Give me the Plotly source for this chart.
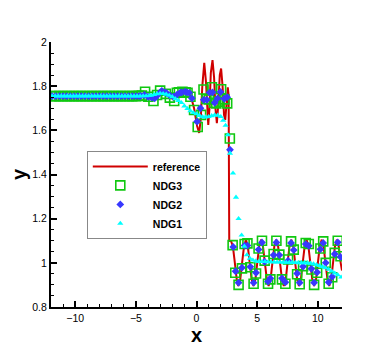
import plotly.graph_objects as go

# reference solution
ref_x = [-12.0, -4.6, -4.3, -4.0, -3.6, -3.3, -3.0, -2.6, -2.2, -1.85, -1.5, -1.1, -0.7, -0.45,
         -0.2, 0.05, 0.22, 0.35, 0.48, 0.64, 0.78, 0.88, 0.97, 1.07, 1.18, 1.32, 1.45, 1.56,
         1.68, 1.8, 1.92, 2.03, 2.15, 2.27, 2.37, 2.48, 2.58, 2.65, 2.68, 2.70, 2.85, 3.0,
         3.12, 3.25, 3.35, 3.45, 3.61, 3.76, 3.92, 4.08, 4.23, 4.39, 4.55, 4.70, 4.86, 5.01,
         5.17, 5.33, 5.48, 5.64, 5.80, 5.95, 6.11, 6.26, 6.42, 6.58, 6.73, 6.89, 7.05, 7.20,
         7.36, 7.51, 7.67, 7.83, 7.98, 8.14, 8.30, 8.45, 8.61, 8.76, 8.92, 9.08, 9.23, 9.39,
         9.55, 9.70, 9.86, 10.01, 10.17, 10.33, 10.48, 10.64, 10.80, 10.95, 11.11, 11.26,
         11.42, 11.58, 11.73, 11.89, 12.0]
ref_y = [1.755, 1.755, 1.768, 1.755, 1.738, 1.758, 1.778, 1.768, 1.75, 1.737, 1.765, 1.775,
         1.77, 1.752, 1.70, 1.62, 1.588, 1.65, 1.80, 1.906, 1.82, 1.68, 1.624, 1.70, 1.86,
         1.918, 1.84, 1.70, 1.632, 1.72, 1.85, 1.88, 1.80, 1.67, 1.647, 1.72, 1.795, 1.76,
         1.5, 1.10, 1.098, 1.075, 1.02, 0.95, 0.91, 0.895, 0.925, 1.0, 1.075, 1.105, 1.075,
         1.0, 0.925, 0.895, 0.925, 1.0, 1.075, 1.105, 1.075, 1.0, 0.925, 0.895, 0.925, 1.0,
         1.075, 1.105, 1.075, 1.0, 0.925, 0.895, 0.925, 1.0, 1.075, 1.105, 1.075, 1.0, 0.925,
         0.895, 0.925, 1.0, 1.075, 1.105, 1.075, 1.0, 0.925, 0.895, 0.925, 1.0, 1.075, 1.105,
         1.075, 1.0, 0.925, 0.895, 0.925, 1.0, 1.075, 1.105, 1.075, 1.0, 0.965]

# NDG3
ndg3_x = [-11.9, -11.6, -11.3, -11.0, -10.7, -10.4, -10.1, -9.8, -9.5, -9.2, -8.9, -8.6, -8.3,
          -8.0, -7.7, -7.4, -7.1, -6.8, -6.5, -6.2, -5.9, -5.6, -5.3, -5.0, -4.75, -4.5, -4.24,
          -3.97, -3.55, -3.25, -3.0, -2.53, -2.2, -1.84, -1.62, -1.45, -1.16, -0.9, -0.74, -0.5,
          -0.2, 0.1, 0.38, 0.58, 0.82, 1.02, 1.27, 1.45, 1.63, 1.9, 2.03, 2.3, 2.53, 2.75, 2.98,
          3.2, 3.47, 3.75, 3.97, 4.2, 4.44, 4.71, 4.91, 5.12, 5.4, 5.62, 5.9, 6.09, 6.36, 6.59,
          6.83, 7.05, 7.33, 7.55, 7.8, 8.02, 8.3, 8.51, 8.79, 9.01, 9.26, 9.48, 9.7, 9.95, 10.22,
          10.45, 10.66, 10.9, 11.19, 11.4, 11.65, 11.88]
ndg3_y = [1.755, 1.755, 1.755, 1.755, 1.755, 1.755, 1.755, 1.755, 1.755, 1.755, 1.755, 1.755,
          1.755, 1.755, 1.755, 1.755, 1.755, 1.755, 1.755, 1.755, 1.755, 1.755, 1.755, 1.755,
          1.756, 1.757, 1.775, 1.752, 1.733, 1.76, 1.78, 1.765, 1.748, 1.733, 1.77, 1.772,
          1.775, 1.772, 1.77, 1.752, 1.692, 1.615, 1.67, 1.785, 1.742, 1.74, 1.795, 1.725,
          1.722, 1.73, 1.786, 1.74, 1.722, 1.563, 1.08, 0.955, 0.90, 0.975, 1.085, 1.088, 0.98,
          0.905, 0.952, 1.065, 1.10, 1.01, 0.905, 0.925, 1.04, 1.10, 1.037, 0.925, 0.905,
          1.015, 1.097, 1.06, 0.948, 0.903, 0.985, 1.09, 1.085, 0.97, 0.90, 0.955, 1.065,
          1.097, 1.0, 0.905, 0.935, 1.045, 1.10, 1.03]

# NDG2
ndg2_x = [-11.9, -11.6, -11.3, -11.0, -10.7, -10.4, -10.1, -9.8, -9.5, -9.2, -8.9, -8.6, -8.3,
          -8.0, -7.7, -7.4, -7.1, -6.8, -6.5, -6.2, -5.9, -5.6, -5.3, -5.0, -4.75, -4.6, -4.3,
          -4.0, -3.69, -3.45, -3.27, -3.0, -2.86, -2.6, -2.45, -2.2, -1.9, -1.6, -1.35, -1.2,
          -0.94, -0.79, -0.6, -0.38, 0.05, 0.33, 0.6, 0.85, 1.08, 1.32, 1.5, 1.74, 1.98, 2.29,
          2.53, 2.76, 3.03, 3.22, 3.47, 3.75, 3.97, 4.2, 4.44, 4.71, 4.91, 5.12, 5.4, 5.62, 5.9,
          6.09, 6.36, 6.59, 6.83, 7.05, 7.33, 7.55, 7.8, 8.02, 8.3, 8.51, 8.79, 9.01, 9.26, 9.48,
          9.7, 9.95, 10.22, 10.45, 10.66, 10.9, 11.19, 11.4, 11.65, 11.88]
ndg2_y = [1.755, 1.755, 1.755, 1.755, 1.755, 1.755, 1.755, 1.755, 1.755, 1.755, 1.755, 1.755,
          1.755, 1.755, 1.755, 1.755, 1.755, 1.755, 1.755, 1.755, 1.755, 1.755, 1.755, 1.755,
          1.755, 1.756, 1.76, 1.752, 1.748, 1.745, 1.755, 1.772, 1.778, 1.772, 1.768, 1.758,
          1.752, 1.762, 1.771, 1.772, 1.775, 1.772, 1.77, 1.745, 1.64, 1.70, 1.738, 1.738,
          1.771, 1.772, 1.725, 1.745, 1.774, 1.743, 1.75, 1.512, 1.072, 0.962, 0.91, 0.978,
          1.078, 1.078, 0.982, 0.91, 0.955, 1.06, 1.092, 1.005, 0.915, 0.93, 1.035, 1.092,
          1.035, 0.93, 0.912, 1.01, 1.09, 1.058, 0.952, 0.91, 0.983, 1.085, 1.077, 0.973, 0.91,
          0.957, 1.062, 1.09, 1.0, 0.912, 0.937, 1.04, 1.093, 1.027]

# NDG1
ndg1_x = [-11.9, -11.65, -11.4, -11.15, -10.9, -10.65, -10.4, -10.15, -9.9, -9.65, -9.4, -9.15,
          -8.9, -8.65, -8.4, -8.15, -7.9, -7.65, -7.4, -7.15, -6.9, -6.65, -6.4, -6.15, -5.9,
          -5.65, -5.4, -5.15, -4.9, -4.65, -4.4, -4.15, -3.9, -3.75, -3.5, -3.25, -3.0, -2.75,
          -2.5, -2.25, -2.0, -1.75, -1.5, -1.25, -1.0, -0.75, -0.5, -0.25, 0.0, 0.25, 0.5, 0.75,
          1.0, 1.25, 1.5, 1.75, 2.0, 2.2, 2.4, 2.59, 2.76, 3.01, 3.26, 3.47, 3.72, 3.95, 4.16,
          4.4, 4.65, 4.9, 5.15, 5.4, 5.65, 5.9, 6.15, 6.4, 6.65, 6.9, 7.15, 7.4, 7.65, 7.9, 8.15,
          8.4, 8.65, 8.9, 9.15, 9.4, 9.65, 9.9, 10.15, 10.4, 10.65, 10.9, 11.15, 11.4, 11.65,
          11.93]
ndg1_y = [1.755, 1.755, 1.755, 1.755, 1.755, 1.755, 1.755, 1.755, 1.755, 1.755, 1.755, 1.755,
          1.755, 1.755, 1.755, 1.755, 1.755, 1.755, 1.755, 1.755, 1.755, 1.755, 1.755, 1.755,
          1.755, 1.755, 1.755, 1.755, 1.755, 1.755, 1.756, 1.756, 1.757, 1.758, 1.762, 1.765,
          1.767, 1.766, 1.763, 1.758, 1.752, 1.743, 1.735, 1.725, 1.71, 1.698, 1.688, 1.68,
          1.674, 1.667, 1.661, 1.66, 1.662, 1.666, 1.669, 1.668, 1.662, 1.645, 1.622, 1.579,
          1.496, 1.406, 1.297, 1.20, 1.125, 1.075, 1.036, 1.02, 1.012, 1.008, 1.006, 1.005,
          1.005, 1.004, 1.004, 1.003, 1.003, 1.003, 1.002, 1.002, 1.002, 1.001, 1.001, 1.0,
          1.0, 1.0, 0.999, 0.998, 0.995, 0.991, 0.987, 0.982, 0.977, 0.97, 0.962, 0.953, 0.945,
          0.935]

font_family = "Liberation Sans, Arial, sans-serif"

fig = go.Figure()
fig.add_trace(go.Scatter(x=ref_x, y=ref_y, name="reference", mode="lines",
                         line=dict(color="#d00000", width=2)))
fig.add_trace(go.Scatter(x=ndg3_x, y=ndg3_y, name="NDG3", mode="markers",
                         marker=dict(symbol="square-open", size=9, color="#10c810",
                                     line=dict(width=1.6, color="#10c810"))))
fig.add_trace(go.Scatter(x=ndg2_x, y=ndg2_y, name="NDG2", mode="markers",
                         marker=dict(symbol="diamond", size=6, color="#3838ff")))
fig.add_trace(go.Scatter(x=ndg1_x, y=ndg1_y, name="NDG1", mode="markers",
                         marker=dict(symbol="triangle-up", size=5.5, color="#00ffff")))

axis_common = dict(
    showline=True, linecolor="black", linewidth=2, mirror=False,
    showgrid=False, zeroline=False, automargin=False,
    ticks="inside", ticklen=6, tickwidth=1.5, tickcolor="black",
    tickfont=dict(family=font_family, size=10.5, color="black"),
)

fig.update_xaxes(range=[-12, 12], tick0=0, dtick=5,
                 minor=dict(ticks="inside", ticklen=3, dtick=1, tickcolor="black", tickwidth=1),
                 title=dict(text="x", font=dict(family=font_family, size=20, weight="bold",
                                                color="black"), standoff=0),
                 **axis_common)
fig.update_yaxes(range=[0.8, 2], tick0=0.8, dtick=0.2,
                 minor=dict(ticks="inside", ticklen=3, dtick=0.05, tickcolor="black", tickwidth=1),
                 title=dict(text="y", font=dict(family=font_family, size=20, weight="bold",
                                                color="black"), standoff=1),
                 **axis_common)

# the page body adds an 8px offset, so margins are shifted to compensate
fig.update_layout(
    width=389, height=346,
    margin=dict(l=43, r=55, t=34, b=47),
    paper_bgcolor="white", plot_bgcolor="white",
    legend=dict(x=0.123, y=0.589, xanchor="left", yanchor="top",
                bgcolor="white", bordercolor="#888888", borderwidth=1,
                itemwidth=55, entrywidth=102,
                font=dict(family=font_family, size=10.5, weight="bold", color="black")),
)

fig.write_html("out.html")
